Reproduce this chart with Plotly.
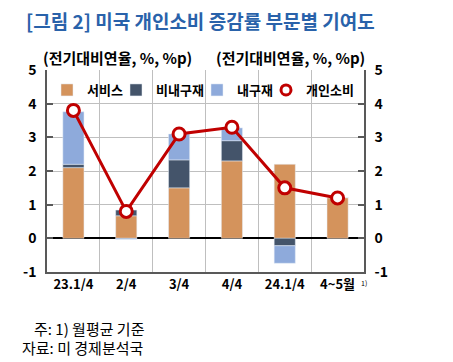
import plotly.graph_objects as go

categories = ["23.1/4", "2/4", "3/4", "4/4", "24.1/4", "4~5월"]
services = [2.10, 0.67, 1.50, 2.30, 2.20, 1.21]
nondurables = [0.10, 0.17, 0.83, 0.60, -0.22, 0.0]
durables = [1.56, -0.03, 0.77, 0.38, -0.52, 0.0]
pce_total = [3.8, 0.8, 3.1, 3.3, 1.5, 1.2]
y_ticks = [-1, 0, 1, 2, 3, 4, 5]
y_ticktext = ["-1", "0", "1", "2", "3", "4", "5"]
grid_ticks = [1, 2, 3, 4]

FONT = "Noto Sans CJK KR"
C_SERV = "#D4935C"
C_NOND = "#44546A"
C_DUR = "#8EAADB"
C_LINE = "#C00000"
C_AXIS = "#595959"

# page body has an 8px margin: work in window pixels, convert to figure pixels
OFF = 8
W, H = 453 - OFF, 362 - OFF
PL, PR, PT, PB = 47, 364, 70, 272          # plot area in window pixels
ML, MR, MT, MB = PL - OFF, W - (PR - OFF), PT - OFF, H - (PB - OFF)
PW = PR - PL
PH = PB - PT

def px_x(x):
    return (x - PL) / PW

def px_y(y):
    return (PB - y) / PH

fig = go.Figure()
fig.add_trace(go.Bar(x=categories, y=services, name="서비스", marker_color=C_SERV,
                     legendwidth=24))
fig.add_trace(go.Bar(x=categories, y=nondurables, name="비내구재", marker_color=C_NOND,
                     legendwidth=36))
fig.add_trace(go.Bar(x=categories, y=durables, name="내구재", marker_color=C_DUR,
                     legendwidth=24))
fig.add_trace(go.Scatter(x=categories, y=pce_total, name="개인소비", mode="lines+markers",
                         showlegend=False, legendgroup="pce",
                         line=dict(color=C_LINE, width=3),
                         marker=dict(symbol="circle", size=12, color="white",
                                     line=dict(color=C_LINE, width=3))))
# legend entry for the line (marker only, as in the reference)
fig.add_trace(go.Scatter(x=[categories[0]], y=[None], name="개인소비", mode="markers",
                         legendgroup="pce", legendwidth=54,
                         marker=dict(symbol="circle", size=10, color="white",
                                     line=dict(color=C_LINE, width=3))))
# right axis
fig.add_trace(go.Scatter(x=categories, y=pce_total, yaxis="y2", showlegend=False,
                         mode="markers", marker=dict(opacity=0), hoverinfo="skip"))
# grid axis (lines only at 1..4)
fig.add_trace(go.Scatter(x=categories, y=pce_total, yaxis="y3", showlegend=False,
                         mode="markers", marker=dict(opacity=0), hoverinfo="skip"))

tickfont = dict(family=FONT, size=14, color="black", weight="bold")

fig.update_layout(
    width=W, height=H,
    margin=dict(l=ML, r=MR, t=MT, b=MB, autoexpand=False),
    paper_bgcolor="white", plot_bgcolor="white",
    barmode="relative", bargap=0.6,
    font=dict(family=FONT, size=13, color="black"),
    title=dict(text="<b>[그림 2] 미국 개인소비 증감률 부문별 기여도</b>",
               x=(26 - OFF) / W, xanchor="left", xref="container",
               y=1 - (22 - OFF) / H, yanchor="middle", yref="container",
               font=dict(family=FONT, size=19, color="#2962AA")),
    xaxis=dict(showgrid=True, gridcolor="#BFBFBF", gridwidth=1,
               tickson="boundaries", ticks="", showline=True, linecolor=C_AXIS,
               linewidth=1.5, tickfont=dict(family=FONT, size=13, color="black", weight="bold"),
               zeroline=False),
    yaxis=dict(range=[-1, 5], tickvals=y_ticks, ticktext=y_ticktext, showgrid=False,
               zeroline=True, zerolinecolor="black", zerolinewidth=1.5,
               showline=True, linecolor=C_AXIS, linewidth=1.5,
               ticks="inside", ticklen=6, tickcolor=C_AXIS, tickwidth=1.5,
               ticklabelstandoff=6, tickfont=tickfont),
    yaxis2=dict(range=[-1, 5], tickvals=y_ticks, ticktext=y_ticktext, overlaying="y",
                side="right", showgrid=False, zeroline=False, showline=True,
                linecolor=C_AXIS, linewidth=1.5, ticks="inside", ticklen=6,
                tickcolor=C_AXIS, tickwidth=1.5, ticklabelstandoff=6, tickfont=tickfont),
    yaxis3=dict(range=[-1, 5], tickvals=grid_ticks, overlaying="y", showgrid=True,
                gridcolor="#BFBFBF", gridwidth=1, showticklabels=False, ticks="",
                zeroline=False, showline=False, layer="below traces"),
    legend=dict(orientation="h", x=0, xanchor="left", y=px_y(75), yanchor="top",
                bgcolor="rgba(0,0,0,0)",
                font=dict(family=FONT, size=13, color="black", weight="bold"),
                itemwidth=30, traceorder="normal", tracegroupgap=0),
    showlegend=True,
)

for cx in (117, 290):
    fig.add_annotation(text="<b>(전기대비연율, %, %p)</b>", x=px_x(cx), y=px_y(58),
                       xref="paper", yref="paper", xanchor="center", yanchor="middle",
                       showarrow=False, font=dict(family=FONT, size=15, color="black"))
fig.add_annotation(text="1)", x=px_x(364), y=px_y(283), xref="paper", yref="paper",
                   xanchor="center", yanchor="middle", showarrow=False,
                   font=dict(family=FONT, size=7, color="black"))
fig.add_annotation(text="주: 1) 월평균 기준", x=px_x(32), y=px_y(328), xref="paper", yref="paper",
                   xanchor="left", yanchor="middle", showarrow=False,
                   font=dict(family=FONT, size=15, color="black"))
fig.add_annotation(text="자료: 미 경제분석국", x=px_x(20), y=px_y(347), xref="paper", yref="paper",
                   xanchor="left", yanchor="middle", showarrow=False,
                   font=dict(family=FONT, size=15, color="black"))

fig.write_html("out.html")
